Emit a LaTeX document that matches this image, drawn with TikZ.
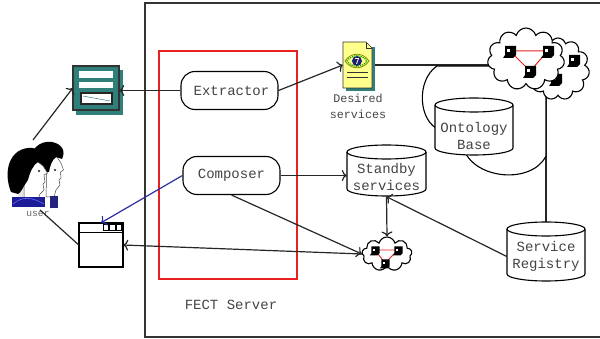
\documentclass[tikz,border=0pt]{standalone}
\usepackage{fontspec}
\setmonofont{Liberation Mono}
\usetikzlibrary{arrows.meta,shapes.symbols,backgrounds,calc}
\definecolor{frame}{HTML}{333333}
\definecolor{txt}{HTML}{444444}
\definecolor{tealfill}{HTML}{2F7F7A}
\definecolor{navy}{HTML}{2E2EA0}
\definecolor{shirt}{HTML}{1C1C96}
\definecolor{docyellow}{HTML}{FFFF8C}
\definecolor{netred}{HTML}{E82020}

% cylinder: left, right, top, bottom, half-height of the ellipse
\newcommand\drum[5]{%
  \pgfmathsetmacro\drumrx{(#2-#1)/2}%
  \filldraw[fill=white, line width=1.1pt]
    (#1,#3+#5) -- (#1,#4-#5)
    arc[start angle=180, end angle=360, x radius=\drumrx pt, y radius=#5pt]
    -- (#2,#3+#5)
    arc[start angle=0, end angle=180, x radius=\drumrx pt, y radius=#5pt] -- cycle;
  \draw[line width=1.1pt] (#1,#3+#5)
    arc[start angle=180, end angle=360, x radius=\drumrx pt, y radius=#5pt];
}

\begin{document}
\begin{tikzpicture}[x=1pt, y=-1pt,
  >={To[length=5pt,width=11pt]},
  conn/.style={line width=1.2pt, draw=black!85},
  proc/.style={draw, line width=1.1pt, rounded corners=14pt, fill=white,
    minimum width=97pt, minimum height=38pt, inner sep=0pt,
    font=\ttfamily\fontsize{14}{17}\selectfont, text=txt},
  lbl/.style={font=\ttfamily\fontsize{14}{17}\selectfont, text=txt, align=center, inner sep=0pt},
  iconbox/.style 2 args={minimum width=#1, minimum height=#2, inner sep=0pt},
  net/.style={cloud, cloud puffs=11, cloud puff arc=150, cloud ignores aspect, draw,
    line width=1.1pt, fill=white, inner sep=0pt},
  pc/.pic={
    \fill[black] (-5,-6) -- (6,-6) -- (6,3) -- (3,6) -- (-7,6) -- (-5,3) -- cycle;
    \fill[white] (-3,-3) rectangle (0,0);
  }
]
\useasboundingbox (0,0) rectangle (600,339);

% ---------- named places ----------
\node[iconbox={46pt}{44pt}] (form) at (96,88) {};
\node[iconbox={44pt}{44pt}] (brw) at (101,245) {};
\node[iconbox={29pt}{46pt}] (doc) at (357.5,65) {};
\coordinate (uTop) at (33,140);
\coordinate (uBot) at (40,210);

% ---------- components of the server ----------
\node[proc] (extr) at (229.5,90.5) {\hspace*{4pt}Extractor};
\node[proc] (comp) at (231.5,175.5) {Composer};

% ---------- knowledge cloud behind the ontology ----------
\filldraw[fill=white, line width=1.1pt]
  (437,66) -- (546,66) -- (546,156)
  .. controls (532,184) and (476,180) .. (464,150)
  -- (440,130)
  .. controls (418,122) and (416,80) .. (437,66) -- cycle;

% ---------- data stores ----------
\drum{435}{513}{98}{155}{7}
\node[lbl] (ont) at (474,135.5) {Ontology\\Base};
\drum{347}{426}{145}{196}{7}
\node[lbl, minimum width=79pt, minimum height=40pt] (sb) at (386.5,176.5) {Standby\\services};
\drum{507}{585}{222}{281}{7}
\node[lbl, minimum width=78pt, minimum height=50pt] (reg) at (546,256.5) {Service\\Registry};

% ---------- service networks ----------
\node[net, minimum width=63pt, minimum height=62pt] (cloudB) at (558,69) {};
\pic at (574,61) {pc};
\pic at (556,80) {pc};
\node[net, minimum width=77pt, minimum height=62pt] (cloudA) at (526,59) {};
\draw[netred, line width=1pt] (510,51) -- (548,51) -- (530,71) -- cycle;
\pic at (510,52) {pc};
\pic at (548,52) {pc};
\pic at (530,72) {pc};

\node[net, cloud puffs=9, minimum width=50pt, minimum height=34pt] (cloudS) at (387,254) {};
\draw[netred, line width=0.9pt] (375,250) -- (398,250) -- (385,263) -- cycle;
\pic[scale=0.75] at (375,251) {pc};
\pic[scale=0.75] at (398,251) {pc};
\pic[scale=0.75] at (385,264) {pc};

% ---------- desired services document ----------
\fill[tealfill] (346,47) rectangle (375,91);
\filldraw[fill=docyellow, draw=black!80, line width=0.6pt]
  (343,42) -- (366,42) -- (372,48) -- (372,88) -- (343,88) -- cycle;
\draw[black!80, line width=0.6pt] (366,42) -- (366,48) -- (372,48);
\draw[olive, line width=0.8pt] (345,61) .. controls (351,52) and (363,52) .. (369,61)
  .. controls (363,70) and (351,70) .. (345,61);
\draw[green!70!black, densely dotted, line width=1.2pt] (347,61) .. controls (352,54) and (362,54) .. (367,61)
  .. controls (362,68) and (352,68) .. (347,61);
\fill[navy!70!black] (357,61) circle (5pt);
\draw[white, line width=0.8pt] (355,58.5) -- (358.5,58.5) -- (356.5,64);
\draw[black!80, line width=0.9pt] (347,72) -- (368,72) (347,77) -- (368,77);
\node[font=\ttfamily\fontsize{11.7}{16}\selectfont, text=txt, align=center, inner sep=0pt]
  (doclbl) at (358,106) {Desired\\services};

% ---------- form icon ----------
\fill[tealfill] (76,70) rectangle (123,115);
\filldraw[fill=tealfill, draw=black!80, line width=1.5pt] (73,66) rectangle (119,110);
\fill[white] (79,71) rectangle (113,78);
\fill[white] (79,82) rectangle (113,88);
\filldraw[fill=white, draw=black!85, line width=1.2pt] (81,93) rectangle (112,104);
\draw[tealfill, line width=0.5pt] (83,96) -- (110,101);

% ---------- browser window ----------
\filldraw[fill=white, draw=black, line width=1.1pt] (79,223) rectangle (123,267);
\draw[line width=1.1pt] (79,232.5) -- (123,232.5);
\foreach \bx in {103,109.5,116}
  \draw[line width=1pt] (\bx,225) rectangle ++(5.5,6);

% ---------- users ----------
% back person
\filldraw[fill=white, draw=black!70, line width=0.5pt]
  (47,160) -- (57,157) -- (61,163) -- (63.5,170) -- (60.5,172) -- (61,178) -- (59,180)
  -- (60,185) -- (56,190) -- (54,197) -- (46,197) -- cycle;
\fill[black]
  (33,166) .. controls (27,150) and (40,140) .. (52,142)
  .. controls (62,144) and (66,151) .. (62,159) -- (56,157)
  .. controls (52,160) and (50,166) .. (49,172) -- (44,172)
  .. controls (40,168) and (36,168) .. (33,166) -- cycle;
\fill[navy!80!black] (50,196) rectangle (58,208);
\fill[black!60!navy] (55,170) circle (1.2pt);
% front person
\fill[black!10] (20,168) -- (30,166) -- (28,200) -- (18,200) -- cycle;
\filldraw[fill=white, draw=black!70, line width=0.5pt]
  (24,165) -- (38,162) -- (43,166) -- (47.5,173) -- (44,175) -- (45,182) -- (43,184)
  -- (44,190) -- (40,194) -- (38,199) -- (24,199) -- cycle;
\fill[black]
  (11,192) .. controls (3,172) and (9,150) .. (28,148)
  .. controls (40,147) and (48,154) .. (45,165) -- (38,162)
  .. controls (33,165) and (30,172) .. (28,180) -- (24,186)
  .. controls (22,190) and (20,193) .. (18,194) -- cycle;
\fill[black!60!navy] (39,171) circle (1.2pt);
\fill[shirt] (12,197) rectangle (45,207);
\draw[blue!60, line width=0.6pt] (13,204) .. controls (22,196) and (32,197) .. (44,204);
\node[font=\ttfamily\fontsize{9.6}{11}\selectfont, text=black!60, inner sep=0pt] (ulbl) at (38,214) {user};

% ---------- labels ----------
\node[lbl] (srvlbl) at (231,305) {FECT Server};

% ---------- connectors drawn over the icons ----------
\draw[conn,->] (extr.west) -- (extr.west -| form.east);
\draw[conn,->] (uTop) -- (form.west);
\draw[conn] (uBot) -- (brw.west);
\draw[conn,->,draw=navy] (comp.west) -- (brw.north);
\draw[conn,->] (cloudS.west) -- (brw.east);
\draw[conn,->] (comp.south) -- (cloudS.west);
\draw[conn,->] (extr.east) -- (doc.west);
\draw[conn,->] (comp.east) -- (comp.east -| sb.west);
\draw[conn,->] (sb.south) -- (cloudS.north);
\draw[conn,->] (reg.west) -- (sb.south);

% ---------- frame, box and lines behind everything ----------
\begin{pgfonlayer}{background}
  \draw[line width=2.2pt, draw=frame] (600,3) -- (145,3) -- (145,337) -- (600,337);
  \draw[line width=1.3pt, draw=netred] (159,51) rectangle (297,279);
  \draw[conn] (doc.east) -- (doc.east -| cloudA.west);
  \draw[conn] (reg.north) -- (reg.north |- cloudA.south);
\end{pgfonlayer}
\end{tikzpicture}
\end{document}
